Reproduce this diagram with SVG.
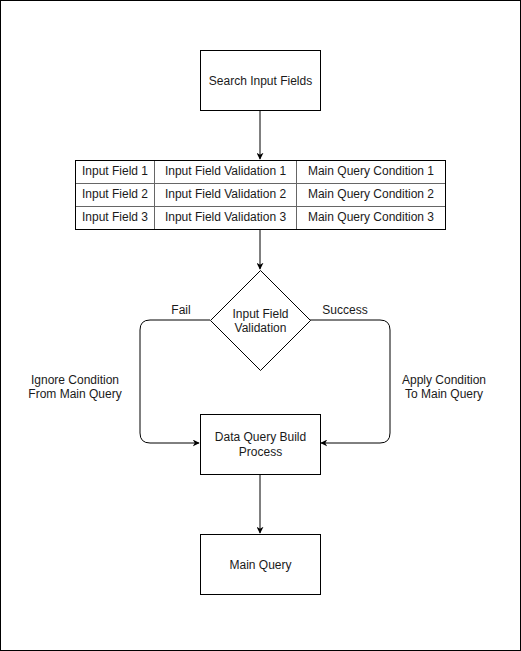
<svg xmlns="http://www.w3.org/2000/svg" width="521" height="651" viewBox="0 0 521 651">
<defs>
<style>
.box{fill:#fff;stroke:#000;stroke-width:1}
.cell{fill:none;stroke:#666;stroke-width:1}
.edge{fill:none;stroke:#000;stroke-width:1}
text{font-family:"Liberation Sans",Arial,sans-serif;font-size:12px;fill:#1a1a1a;text-anchor:middle}
</style>
<marker id="arr" viewBox="0 0 10 10" refX="9" refY="5" markerWidth="7" markerHeight="7" markerUnits="userSpaceOnUse" orient="auto">
<path d="M0,0 L10,5 L0,10 L3,5 Z" fill="#000"/>
</marker>
</defs>
<rect x="0.5" y="0.5" width="520" height="650" fill="#fff" stroke="#000"/>
<g id="connectors">
<path class="edge" d="M260,110 V159" marker-end="url(#arr)"/>
<path class="edge" d="M260,230 V269" marker-end="url(#arr)"/>
<path class="edge" d="M210,320 H150 Q140,320 140,330 V433 Q140,443 150,443 H199" marker-end="url(#arr)"/>
<path class="edge" d="M310,320 H380 Q390,320 390,330 V433 Q390,443 380,443 H321" marker-end="url(#arr)"/>
<path class="edge" d="M260,474 V533" marker-end="url(#arr)"/>
</g>
<g id="search-input-fields">
<rect class="box" x="200.5" y="50.5" width="120" height="60"/>
<text x="260.5" y="85">Search Input Fields</text>
</g>
<g id="input-table">
<rect class="box" x="75.5" y="160.5" width="370" height="69"/>
<path class="cell" d="M76,183.5 H445 M76,206.5 H445 M154.5,161 V229 M296.5,161 V229"/>
<text x="115" y="175">Input Field 1</text>
<text x="225.5" y="175">Input Field Validation 1</text>
<text x="371" y="175">Main Query Condition 1</text>
<text x="115" y="198">Input Field 2</text>
<text x="225.5" y="198">Input Field Validation 2</text>
<text x="371" y="198">Main Query Condition 2</text>
<text x="115" y="221">Input Field 3</text>
<text x="225.5" y="221">Input Field Validation 3</text>
<text x="371" y="221">Main Query Condition 3</text>
</g>
<g id="validation">
<path class="box" d="M260.5,270.5 L310.5,320.5 L260.5,370.5 L210.5,320.5 Z"/>
<text x="260.5" y="318">Input Field</text>
<text x="260.5" y="332">Validation</text>
</g>
<g id="labels">
<text x="181" y="314">Fail</text>
<text x="345" y="314">Success</text>
<text x="75" y="384">Ignore Condition</text>
<text x="75" y="398">From Main Query</text>
<text x="444" y="384">Apply Condition</text>
<text x="444" y="398">To Main Query</text>
</g>
<g id="data-query-build">
<rect class="box" x="200.5" y="414.5" width="120" height="60"/>
<text x="260.5" y="441">Data Query Build</text>
<text x="260.5" y="456">Process</text>
</g>
<g id="main-query">
<rect class="box" x="200.5" y="534.5" width="120" height="60"/>
<text x="260.5" y="569">Main Query</text>
</g>
</svg>
